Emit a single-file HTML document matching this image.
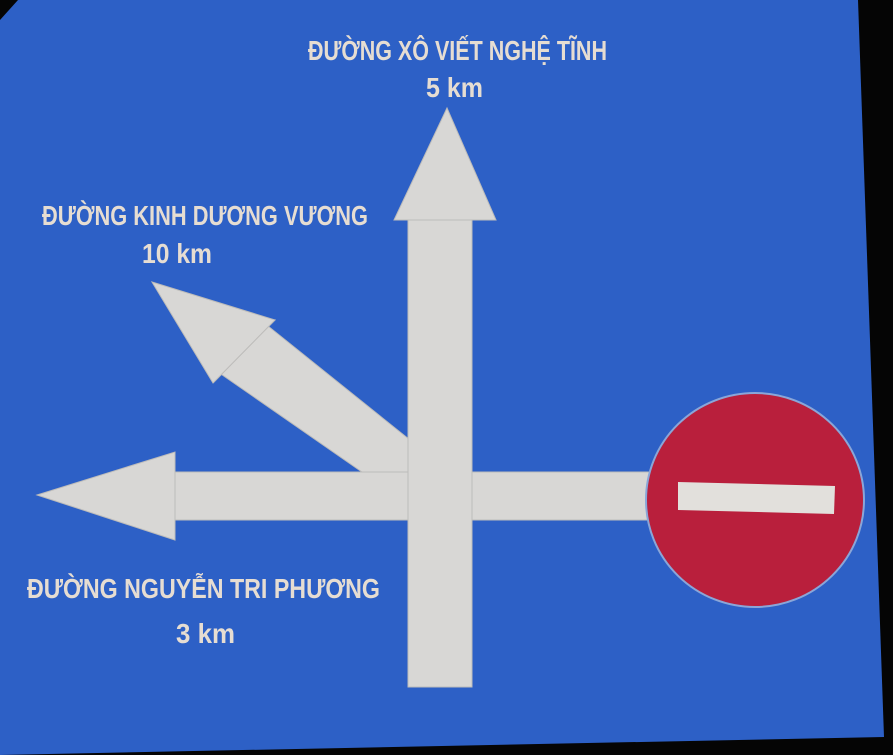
<!DOCTYPE html>
<html><head><meta charset="utf-8"><style>
html,body{margin:0;padding:0;background:#000;width:893px;height:755px;overflow:hidden}
text{font-family:"Liberation Sans Narrow","Liberation Sans",sans-serif;font-weight:bold;fill:#e6ddd2}
</style></head><body>
<svg width="893" height="755" viewBox="0 0 893 755">
<rect width="893" height="755" fill="#050505"/>
<polygon points="18,0 858,0 884,737 0,755 0,20" fill="#2d60c6"/>
<g fill="#d8d7d5" stroke="#bdbcba" stroke-width="1">
<polygon points="258,318 275,320 213,383 218,372 362,472 410,472 410,440"/>
<polygon points="152,282 275,320 213,383"/>
<rect x="175" y="472" width="475" height="48"/>
<polygon points="37,495 175,452 175,540"/>
<rect x="408" y="215" width="64" height="472"/>
<polygon points="447,108 496,220 394,220"/>
</g>
<ellipse cx="755" cy="500" rx="109" ry="107" fill="#b91f3c" stroke="#8aa6d8" stroke-width="2"/>
<polygon points="678,482 835,486 834,514 678,510" fill="#e2e0dc"/>
<text x="308" y="60" font-size="28" textLength="299" lengthAdjust="spacingAndGlyphs">ĐƯỜNG XÔ VIẾT NGHỆ TĨNH</text>
<text x="426" y="97" font-size="28" textLength="57" lengthAdjust="spacingAndGlyphs">5 km</text>
<text x="42" y="225" font-size="28" textLength="326" lengthAdjust="spacingAndGlyphs">ĐƯỜNG KINH DƯƠNG VƯƠNG</text>
<text x="142" y="263" font-size="28" textLength="70" lengthAdjust="spacingAndGlyphs">10 km</text>
<text x="27" y="598" font-size="28" textLength="353" lengthAdjust="spacingAndGlyphs">ĐƯỜNG NGUYỄN TRI PHƯƠNG</text>
<text x="176" y="643" font-size="28" textLength="59" lengthAdjust="spacingAndGlyphs">3 km</text>
</svg>
</body></html>
